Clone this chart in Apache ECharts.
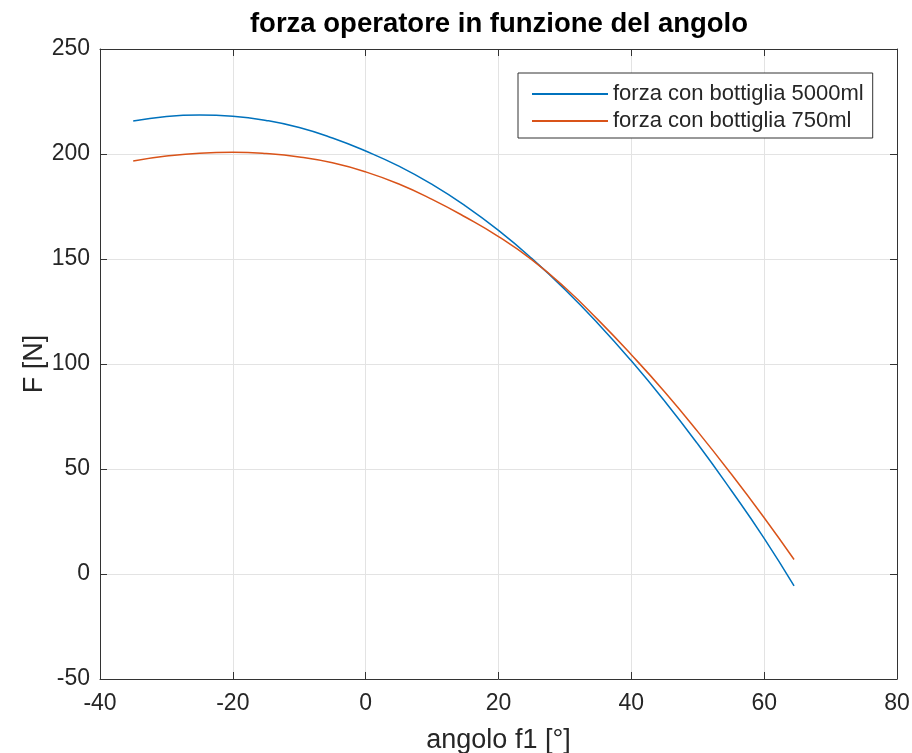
<!DOCTYPE html>
<html>
<head>
<meta charset="utf-8">
<script src="https://cdn.jsdelivr.net/npm/echarts@6/dist/echarts.min.js"></script>
<style>
html,body{margin:0;padding:0;background:#fff;}
#chart{width:912px;height:753px;}
</style>
</head>
<body>
<div id="chart"></div>
<script>
// Data
var titleText = 'forza operatore in funzione del angolo';
var xName = 'angolo f1 [°]';
var yName = 'F [N]';
var seriesNames = ['forza con bottiglia 5000ml', 'forza con bottiglia 750ml'];
var angles = [-35, -30, -25, -20, -15, -10, -5, 0, 5, 10, 15, 20, 25, 30, 35, 40, 45, 50, 55, 60, 64.5];
var force5000 = [215.7, 217.9, 218.6, 218.0, 216.0, 212.6, 207.6, 201.4, 194.2, 185.5, 175.3, 163.6, 150.3, 135.5, 119.2, 101.5, 82.4, 61.9, 40.0, 17.0, -5.7];
var force750 = [196.7, 199.0, 200.4, 200.8, 200.2, 198.6, 195.8, 191.5, 185.7, 178.4, 170.0, 160.7, 149.7, 136.4, 121.0, 104.4, 86.8, 67.8, 47.8, 26.8, 6.9];
var xTicks = {min: -40, max: 80, interval: 20};
var yTicks = {min: -50, max: 250, interval: 50};

function pairs(xs, ys) { return xs.map(function (x, i) { return [x, ys[i]]; }); }

var textColor = '#262626';
var axisColor = '#333333';
var font = 'Liberation Sans, Arial, sans-serif';
var chart = echarts.init(document.getElementById('chart'), null, {renderer: 'canvas'});

function xAxisBase(pos, main) {
  return {
    type: 'value', position: pos, min: xTicks.min, max: xTicks.max, interval: xTicks.interval,
    axisLine: {show: true, onZero: false, lineStyle: {color: axisColor, width: 1}},
    axisTick: {show: true, inside: true, length: 7, lineStyle: {color: axisColor}},
    axisLabel: {show: main, fontSize: 23, color: textColor, fontFamily: font, margin: 13},
    splitLine: {show: main, lineStyle: {color: '#e3e3e3', width: 1}},
    name: main ? xName : '', nameLocation: 'middle', nameGap: 48, nameMoveOverlap: false,
    nameTextStyle: {fontSize: 27, color: textColor, fontFamily: font}
  };
}
function yAxisBase(pos, main) {
  return {
    type: 'value', position: pos, min: yTicks.min, max: yTicks.max, interval: yTicks.interval,
    axisLine: {show: true, onZero: false, lineStyle: {color: axisColor, width: 1}},
    axisTick: {show: true, inside: true, length: 7, lineStyle: {color: axisColor}},
    axisLabel: {show: main, fontSize: 23, color: textColor, fontFamily: font, margin: 10},
    splitLine: {show: main, lineStyle: {color: '#e3e3e3', width: 1}},
    name: main ? yName : '', nameLocation: 'middle', nameGap: 52, nameRotate: 90, nameMoveOverlap: false,
    nameTextStyle: {fontSize: 27, color: textColor, fontFamily: font}
  };
}

var option = {
  backgroundColor: '#ffffff',
  animation: false,
  grid: {left: 100, right: 15, top: 49, bottom: 74, containLabel: false, outerBoundsMode: 'none'},
  graphic: [{
    type: 'text', x: 499, y: 10,
    style: {text: titleText, font: 'bold 27.5px Liberation Sans, Arial, sans-serif', fill: '#000', align: 'center', verticalAlign: 'top'}
  }],
  legend: {
    orient: 'vertical', left: 518, top: 73,
    icon: 'rect', itemWidth: 76, itemHeight: 2, itemGap: 5,
    padding: [10, 9, 6, 14],
    borderColor: axisColor, borderWidth: 1, backgroundColor: '#fff',
    textStyle: {fontSize: 22, color: textColor, fontFamily: font},
    data: seriesNames
  },
  xAxis: [xAxisBase('bottom', true), xAxisBase('top', false)],
  yAxis: [yAxisBase('left', true), yAxisBase('right', false)],
  series: [
    {name: seriesNames[0], type: 'line', xAxisIndex: 0, yAxisIndex: 0, smooth: true, showSymbol: false,
     lineStyle: {color: '#0072BD', width: 1.5}, itemStyle: {color: '#0072BD'}, data: pairs(angles, force5000)},
    {name: seriesNames[1], type: 'line', xAxisIndex: 0, yAxisIndex: 0, smooth: true, showSymbol: false,
     lineStyle: {color: '#D95319', width: 1.5}, itemStyle: {color: '#D95319'}, data: pairs(angles, force750)}
  ]
};
chart.setOption(option);
</script>
</body>
</html>
